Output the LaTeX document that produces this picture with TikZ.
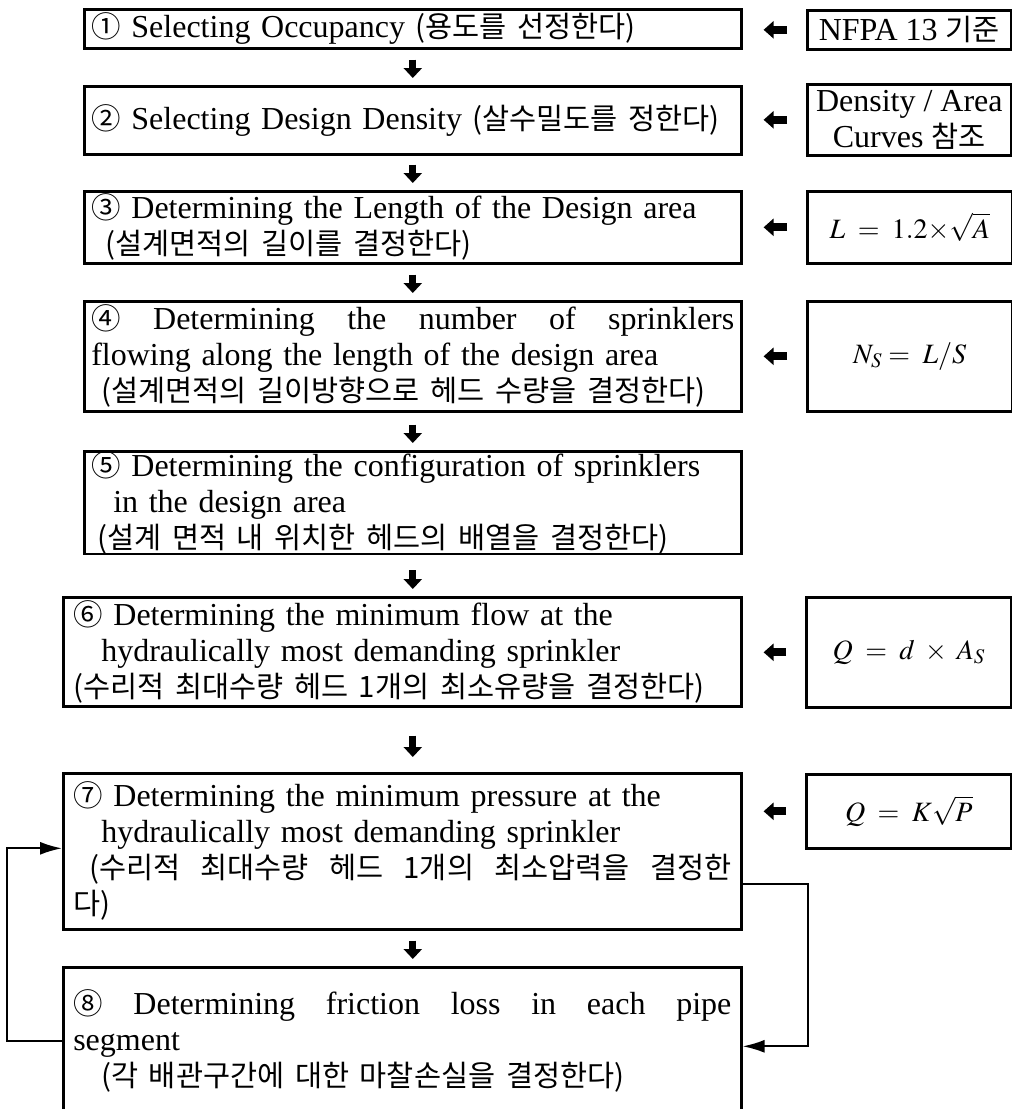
\documentclass[tikz,border=0pt]{standalone}
\usepackage{mathptmx}
\usepackage{fontspec}
\setmainfont{Liberation Serif}
\newfontfamily\krfont{Noto Sans CJK KR}[Scale=0.92]
\newcommand{\kor}[1]{{\krfont #1}}
\usetikzlibrary{arrows.meta,positioning,calc}

\tikzset{
  stepbox/.style={draw, line width=2.6pt, anchor=north west, align=left,
    inner xsep=7pt, inner ysep=0pt, font=\fontsize{32}{36}\selectfont},
  refbox/.style={draw, line width=2.6pt, anchor=north west, align=center,
    inner sep=0pt, font=\fontsize{32}{36}\selectfont},
  mathbox/.style={refbox, font=\fontsize{28}{34}\selectfont},
  downarr/.style={line width=7pt, -{Triangle[width=18pt,length=10pt]},
    shorten >=7pt, shorten <=#1},
  leftarr/.style={line width=8pt, -{Triangle[width=17pt,length=10pt]},
    shorten >=21pt, shorten <=19pt},
  loopline/.style={line width=2pt, -{Latex[length=22pt,width=13pt]}},
}

\begin{document}
\begin{tikzpicture}[x=1pt,y=-1pt]
    \useasboundingbox (0,0) rectangle (1012,1109);

    % Steps
    \node[stepbox, minimum width=657pt, minimum height=39pt, text width=643pt] (s1) at (83,8)
      {\kor{①} Selecting Occupancy \kor{(용도를 선정한다)}};
    \node[stepbox, minimum width=657pt, minimum height=68pt, text width=643pt] (s2) at (83,85)
      {\kor{②} Selecting Design Density \kor{(살수밀도를 정한다)}};
    \node[stepbox, minimum width=657pt, minimum height=72pt, text width=643pt] (s3) at (83,190)
      {\kor{③} Determining the Length of the Design area\\
       \hspace*{14pt}\kor{(설계면적의 길이를 결정한다)}};
    \node[stepbox, minimum width=657pt, minimum height=110pt, text width=643pt] (s4) at (83,300)
      {\kor{④}\hfill Determining\hfill the\hfill number\hfill of\hfill sprinklers\\
       flowing along the length of the design area\\
       \hspace*{10pt}\kor{(설계면적의 길이방향으로 헤드 수량을 결정한다)}};
    \node[stepbox, minimum width=657pt, minimum height=102pt, text width=643pt] (s5) at (83,450)
      {\kor{⑤} Determining the configuration of sprinklers\\
       \hspace*{22pt}in the design area\\
       \hspace*{6pt}\kor{(설계 면적 내 위치한 헤드의 배열을 결정한다)}};
    \node[stepbox, minimum width=678pt, minimum height=109pt, text width=658pt, inner xsep=10pt] (s6) at (62,596)
      {\kor{⑥} Determining the minimum flow at the\\
       \hspace*{28pt}hydraulically most demanding sprinkler\\
       \kor{(수리적 최대수량 헤드 1개의 최소유량을 결정한다)}};
    \node[stepbox, minimum width=678pt, minimum height=156pt, text width=658pt, inner xsep=10pt] (s7) at (62,772)
      {\kor{⑦} Determining the minimum pressure at the\\
       \hspace*{28pt}hydraulically most demanding sprinkler\\
       \hspace*{16pt}\kor{(수리적}\hfill\kor{최대수량}\hfill\kor{헤드}\hfill\kor{1개의}\hfill\kor{최소압력을}\hfill\kor{결정한}\\
       \kor{다)}};
    \node[stepbox, minimum width=678pt, minimum height=147pt, text width=658pt, inner xsep=10pt] (s8) at (62,966)
      {\kor{⑧}\hfill Determining\hfill friction\hfill loss\hfill in\hfill each\hfill pipe\\
       segment\\
       \hspace*{28pt}\kor{(각 배관구간에 대한 마찰손실을 결정한다)}};

    % References
    \node[refbox, minimum width=204pt, minimum height=39pt] (r1) at (806,9)
      {NFPA 13 \kor{기준}};
    \node[refbox, minimum width=204pt, minimum height=71pt] (r2) at (806,83)
      {Density / Area\\ Curves \kor{참조}};
    \node[mathbox, minimum width=205pt, minimum height=72pt] (r3) at (806,190)
      {$L\;=\;1.2{\times}\sqrt{A}$};
    \node[mathbox, minimum width=205pt, minimum height=110pt] (r4) at (806,300)
      {$N_S =\; L/S$};
    \node[mathbox, minimum width=205pt, minimum height=110pt] (r6) at (805,596)
      {$Q\;=\;d\;\times\;A_S$};
    \node[mathbox, minimum width=205pt, minimum height=74pt] (r7) at (805,773)
      {$Q\;=\;K\sqrt{P}$};

    % Flow down
    \draw[downarr=10pt] (s1.south) -- (s2.north);
    \draw[downarr=9pt] (s2.south) -- (s3.north);
    \draw[downarr=10pt] (s3.south) -- (s4.north);
    \draw[downarr=12pt] (s4.south) -- (s5.north);
    \draw[downarr=15pt] (s5.south) -- (s5.south |- s6.north);
    \draw[downarr=28pt, shorten >=15pt] (s5.south |- s6.south) -- (s5.south |- s7.north);
    \draw[downarr=10pt] (s5.south |- s7.south) -- (s5.south |- s8.north);

    % Inputs
    \draw[leftarr] (r1.west) -- (r1.west -| s1.east);
    \draw[leftarr] (r2.west) -- (r2.west -| s2.east);
    \draw[leftarr] (r3.west) -- (r3.west -| s3.east);
    \draw[leftarr] (r4.west) -- (r4.west -| s4.east);
    \draw[leftarr] (r6.west) -- (r6.west -| s6.east);
    \draw[leftarr] (r7.west) -- (r7.west -| s7.east);

    % Iteration loop
    \draw[loopline] ([yshift=-33pt]s7.east) -- ++(65,0) |- ([yshift=-5.5pt]s8.east);
    \draw[loopline] (s8.west) -- ++(-55,0) |- ([yshift=3pt]s7.west);
\end{tikzpicture}
\end{document}
